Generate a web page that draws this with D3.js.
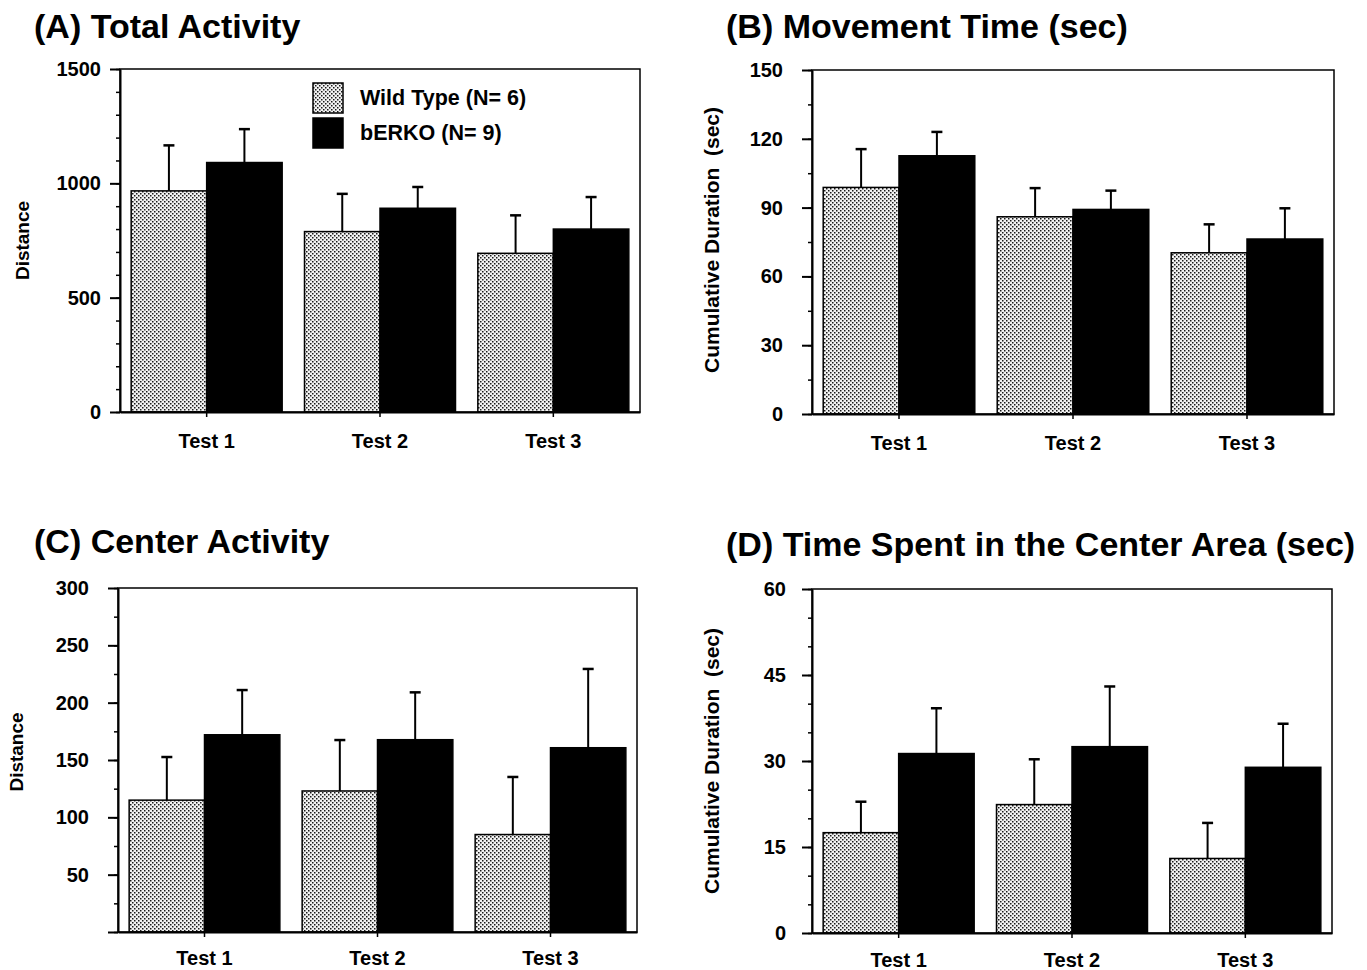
<!DOCTYPE html>
<html>
<head>
<meta charset="utf-8">
<script src="https://cdn.jsdelivr.net/npm/d3@7"></script>
<style>
  body { margin: 0; background: #fff; }
  text { font-family: "Liberation Sans", Arial, Helvetica, sans-serif; font-weight: bold; fill: #000; }
</style>
</head>
<body>
<div id="chart"></div>
<script>
// categories and groups
var tests = ["Test 1", "Test 2", "Test 3"];
var groups = ["wt", "ko"];
var groupLabels = ["Wild Type (N= 6)", "bERKO (N= 9)"];

// (A) Total Activity - distance
var totalWT = [967, 789, 694];
var totalWTErr = [199, 165, 166];
var totalKO = [1091, 891, 800];
var totalKOErr = [146, 93, 140];

// (B) Movement Time (sec)
var moveWT = [98.8, 86.0, 70.3];
var moveWTErr = [16.7, 12.5, 12.4];
var moveKO = [112.6, 89.2, 76.3];
var moveKOErr = [10.4, 8.2, 13.4];

// (C) Center Activity - distance
var centerWT = [115, 123, 85];
var centerWTErr = [37.6, 44.4, 50.2];
var centerKO = [172, 167.7, 160.7];
var centerKOErr = [39, 41.3, 68.7];

// (D) Time Spent in the Center Area (sec)
var timeWT = [17.5, 22.4, 13.0];
var timeWTErr = [5.4, 7.9, 6.2];
var timeKO = [31.3, 32.5, 28.9];
var timeKOErr = [7.9, 10.5, 7.6];

var svgWidth = 1367;
var svgHeight = 970;

var svg = d3.select("#chart")
  .append("svg")
  .attr("width", svgWidth)
  .attr("height", svgHeight);

svg.append("rect")
  .attr("width", svgWidth)
  .attr("height", svgHeight)
  .attr("fill", "#fff");

// stippled fill for the wild type bars
var pattern = svg.append("defs").append("pattern")
  .attr("id", "dots")
  .attr("patternUnits", "userSpaceOnUse")
  .attr("width", 4)
  .attr("height", 4);
pattern.append("rect").attr("width", 4).attr("height", 4).attr("fill", "#f2f2f2");
pattern.append("rect").attr("x", 0).attr("y", 0).attr("width", 1.5).attr("height", 1.5).attr("fill", "#1a1a1a");
pattern.append("rect").attr("x", 2).attr("y", 2).attr("width", 1.5).attr("height", 1.5).attr("fill", "#1a1a1a");

function drawPanel(p) {
  var width = p.right - p.left;
  var height = p.bottom - p.top;

  var g = svg.append("g")
    .attr("transform", `translate(${p.left}, ${p.top})`);

  var x0 = d3.scaleBand().domain(tests).range([0, width]).padding(0);
  var x1 = d3.scaleBand().domain(groups).range([0, x0.bandwidth()])
    .paddingInner(0).paddingOuter(0.148);
  var y = d3.scaleLinear().domain(p.domain).range([height, 0]);

  var rows = tests.map(function(t, i) {
    return [
      { test: t, key: "wt", mean: p.wt[i], err: p.wtErr[i] },
      { test: t, key: "ko", mean: p.ko[i], err: p.koErr[i] }
    ];
  });
  var flat = d3.merge(rows);

  // error bars (upper half only)
  var eb = g.append("g").selectAll("g")
    .data(flat)
    .enter()
    .append("g")
    .attr("transform", d => `translate(${x0(d.test) + x1(d.key) + x1.bandwidth() / 2}, 0)`);
  eb.append("line")
    .attr("y1", d => y(d.mean))
    .attr("y2", d => y(d.mean + d.err))
    .attr("stroke", "#000")
    .attr("stroke-width", 2);
  eb.append("line")
    .attr("x1", -5.5)
    .attr("x2", 5.5)
    .attr("y1", d => y(d.mean + d.err))
    .attr("y2", d => y(d.mean + d.err))
    .attr("stroke", "#000")
    .attr("stroke-width", 2.5);

  // bars
  g.append("g").selectAll("rect")
    .data(flat)
    .enter()
    .append("rect")
    .attr("x", d => x0(d.test) + x1(d.key))
    .attr("y", d => y(d.mean))
    .attr("width", x1.bandwidth())
    .attr("height", d => height - y(d.mean))
    .attr("fill", d => d.key === "wt" ? "url(#dots)" : "#000")
    .attr("stroke", "#000")
    .attr("stroke-width", 1.5);

  // frame (top and right)
  g.append("rect")
    .attr("width", width)
    .attr("height", height)
    .attr("fill", "none")
    .attr("stroke", "#000")
    .attr("stroke-width", 1.5);

  // minor y ticks
  var minorAxis = d3.axisLeft(y)
    .tickValues(d3.range(p.domain[0], p.domain[1] + 1e-9, p.minor))
    .tickSize(4)
    .tickSizeOuter(0)
    .tickFormat("");
  g.append("g").call(minorAxis)
    .call(a => a.selectAll("line").attr("stroke-width", 1.5));

  // major y ticks
  var leftAxis = d3.axisLeft(y)
    .tickValues(d3.range(p.domain[0], p.domain[1] + 1e-9, p.major))
    .tickSize(10)
    .tickSizeOuter(0)
    .tickPadding(p.labelPad)
    .tickFormat(d => (d === 0 && p.hideZero) ? "" : d);
  var yAxis = g.append("g").call(leftAxis);
  yAxis.select(".domain").attr("stroke-width", 2);
  yAxis.selectAll("line").attr("stroke-width", 2);
  yAxis.selectAll("text")
    .style("font-size", "20px")
    .style("font-family", "'Liberation Sans', Arial, sans-serif")
    .style("font-weight", "bold");

  // x axis
  var bottomAxis = d3.axisBottom(x0)
    .tickSize(5)
    .tickSizeOuter(0)
    .tickPadding(p.testPad);
  var xAxis = g.append("g")
    .attr("transform", `translate(0, ${height})`)
    .call(bottomAxis);
  xAxis.select(".domain").attr("stroke-width", 2);
  xAxis.selectAll("line").attr("stroke-width", 1.5);
  xAxis.selectAll("text")
    .style("font-size", "20px")
    .style("font-family", "'Liberation Sans', Arial, sans-serif")
    .style("font-weight", "bold");

  // y label
  svg.append("text")
    .attr("transform", `translate(${p.yLabelX}, ${p.top + height / 2 + p.yLabelShift}) rotate(-90)`)
    .attr("text-anchor", "middle")
    .style("font-size", p.yLabelSize + "px")
    .style("white-space", "pre")
    .text(p.yLabel);

  // title
  svg.append("text")
    .attr("x", p.titleX)
    .attr("y", p.titleY)
    .style("font-size", "34px")
    .text(p.title);

  return g;
}

drawPanel({
  left: 120, right: 640, top: 69, bottom: 412,
  domain: [0, 1500], major: 500, minor: 100, labelPad: 9, hideZero: false,
  testPad: 17,
  wt: totalWT, wtErr: totalWTErr, ko: totalKO, koErr: totalKOErr,
  yLabel: "Distance", yLabelX: 29, yLabelShift: 0, yLabelSize: 19,
  title: "(A) Total Activity", titleX: 34, titleY: 38
});

drawPanel({
  left: 812, right: 1334, top: 70, bottom: 414,
  domain: [0, 150], major: 30, minor: 15, labelPad: 19, hideZero: false,
  testPad: 17,
  wt: moveWT, wtErr: moveWTErr, ko: moveKO, koErr: moveKOErr,
  yLabel: "Cumulative Duration  (sec)", yLabelX: 719, yLabelShift: -2, yLabelSize: 21,
  title: "(B) Movement Time (sec)", titleX: 726, titleY: 38
});

drawPanel({
  left: 118, right: 637, top: 588, bottom: 932,
  domain: [0, 300], major: 50, minor: 25, labelPad: 19, hideZero: true,
  testPad: 14,
  wt: centerWT, wtErr: centerWTErr, ko: centerKO, koErr: centerKOErr,
  yLabel: "Distance", yLabelX: 23, yLabelShift: -8, yLabelSize: 19,
  title: "(C) Center Activity", titleX: 34, titleY: 553
});

drawPanel({
  left: 812, right: 1332, top: 589, bottom: 933,
  domain: [0, 60], major: 15, minor: 5, labelPad: 16, hideZero: false,
  testPad: 15,
  wt: timeWT, wtErr: timeWTErr, ko: timeKO, koErr: timeKOErr,
  yLabel: "Cumulative Duration  (sec)", yLabelX: 719, yLabelShift: 0, yLabelSize: 21,
  title: "(D) Time Spent in the Center Area (sec)", titleX: 726, titleY: 556
});

// legend inside panel A
var legend = svg.append("g")
  .attr("transform", "translate(313, 83)");
var legendItems = legend.selectAll("g")
  .data(groups)
  .enter()
  .append("g")
  .attr("transform", (d, i) => `translate(0, ${i * 35})`);
legendItems.append("rect")
  .attr("width", 30)
  .attr("height", 30)
  .attr("fill", d => d === "wt" ? "url(#dots)" : "#000")
  .attr("stroke", "#000")
  .attr("stroke-width", 1.5);
legendItems.append("text")
  .attr("x", 47)
  .attr("y", 22)
  .style("font-size", "21.5px")
  .text((d, i) => groupLabels[i]);
</script>
</body>
</html>
